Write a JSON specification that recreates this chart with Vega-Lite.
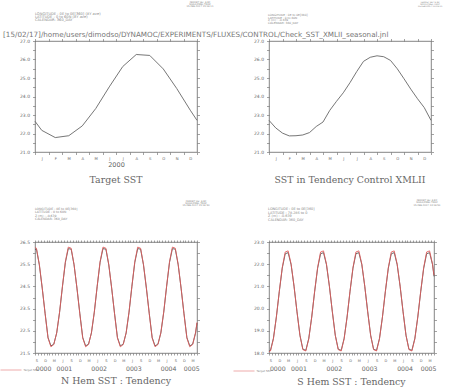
{
"$schema":"https://vega.github.io/schema/vega-lite/v6.json",
"autosize":{"type":"none"},
"padding":{"left":35,"top":41,"right":414,"bottom":348},
"background":"white",
"datasets":{
"tl":[{"t":0,"v":22.66},{"t":0.5,"v":22.17},{"t":1.5,"v":21.78},{"t":2.5,"v":21.88},{"t":3.5,"v":22.41},{"t":4.5,"v":23.35},{"t":5.5,"v":24.52},{"t":6.5,"v":25.62},{"t":7.5,"v":26.27},{"t":8.5,"v":26.22},{"t":9.5,"v":25.49},{"t":10.5,"v":24.43},{"t":11.5,"v":23.26},{"t":12,"v":22.71}],
"tr":[{"t":0,"v":22.71},{"t":0.5,"v":22.3},{"t":1,"v":22.02},{"t":1.5,"v":21.87},{"t":2,"v":21.88},{"t":2.5,"v":21.92},{"t":3,"v":22.05},{"t":3.5,"v":22.38},{"t":4,"v":22.62},{"t":4.5,"v":23.25},{"t":5,"v":23.74},{"t":5.5,"v":24.2},{"t":6,"v":24.75},{"t":6.5,"v":25.35},{"t":7,"v":25.9},{"t":7.5,"v":26.12},{"t":8,"v":26.2},{"t":8.5,"v":26.15},{"t":9,"v":25.95},{"t":9.5,"v":25.5},{"t":10,"v":24.96},{"t":10.5,"v":24.4},{"t":11,"v":23.88},{"t":11.5,"v":23.4},{"t":12,"v":22.71}],
"bl":[{"t":0,"target":26.25,"model":26.17},
{"t":0.5,"target":26.22,"model":26.18},{"t":1.5,"target":25.49,"model":25.47},{"t":2.5,"target":24.43,"model":24.42},{"t":3.5,"target":23.26,"model":23.28},{"t":4.5,"target":22.17,"model":22.2},{"t":5.5,"target":21.78,"model":21.82},{"t":6.5,"target":21.88,"model":21.9},{"t":7.5,"target":22.41,"model":22.4},{"t":8.5,"target":23.35,"model":23.33},{"t":9.5,"target":24.52,"model":24.5},{"t":10.5,"target":25.62,"model":25.58},{"t":11.5,"target":26.27,"model":26.2},
{"t":12.5,"target":26.22,"model":26.18},{"t":13.5,"target":25.49,"model":25.47},{"t":14.5,"target":24.43,"model":24.42},{"t":15.5,"target":23.26,"model":23.28},{"t":16.5,"target":22.17,"model":22.2},{"t":17.5,"target":21.78,"model":21.82},{"t":18.5,"target":21.88,"model":21.9},{"t":19.5,"target":22.41,"model":22.4},{"t":20.5,"target":23.35,"model":23.33},{"t":21.5,"target":24.52,"model":24.5},{"t":22.5,"target":25.62,"model":25.58},{"t":23.5,"target":26.27,"model":26.2},
{"t":24.5,"target":26.22,"model":26.18},{"t":25.5,"target":25.49,"model":25.47},{"t":26.5,"target":24.43,"model":24.42},{"t":27.5,"target":23.26,"model":23.28},{"t":28.5,"target":22.17,"model":22.2},{"t":29.5,"target":21.78,"model":21.82},{"t":30.5,"target":21.88,"model":21.9},{"t":31.5,"target":22.41,"model":22.4},{"t":32.5,"target":23.35,"model":23.33},{"t":33.5,"target":24.52,"model":24.5},{"t":34.5,"target":25.62,"model":25.58},{"t":35.5,"target":26.27,"model":26.2},
{"t":36.5,"target":26.22,"model":26.18},{"t":37.5,"target":25.49,"model":25.47},{"t":38.5,"target":24.43,"model":24.42},{"t":39.5,"target":23.26,"model":23.28},{"t":40.5,"target":22.17,"model":22.2},{"t":41.5,"target":21.78,"model":21.82},{"t":42.5,"target":21.88,"model":21.9},{"t":43.5,"target":22.41,"model":22.4},{"t":44.5,"target":23.35,"model":23.33},{"t":45.5,"target":24.52,"model":24.5},{"t":46.5,"target":25.62,"model":25.58},{"t":47.5,"target":26.27,"model":26.2},
{"t":48.5,"target":26.22,"model":26.18},{"t":49.5,"target":25.49,"model":25.47},{"t":50.5,"target":24.43,"model":24.42},{"t":51.5,"target":23.26,"model":23.28},{"t":52.5,"target":22.17,"model":22.2},{"t":53.5,"target":21.78,"model":21.82},{"t":54.5,"target":21.88,"model":21.9},{"t":55.5,"target":22.41,"model":22.4},
{"t":56,"target":22.88,"model":22.85}],
"br":[{"t":0,"target":18.05,"model":18.08},
{"t":0.5,"target":18.09,"model":18.12},{"t":1.5,"target":18.63,"model":18.66},{"t":2.5,"target":19.62,"model":19.62},{"t":3.5,"target":20.79,"model":20.77},{"t":4.5,"target":21.85,"model":21.82},{"t":5.5,"target":22.55,"model":22.47},{"t":6.5,"target":22.6,"model":22.52},{"t":7.5,"target":22.01,"model":21.98},{"t":8.5,"target":21.02,"model":21.0},{"t":9.5,"target":19.85,"model":19.86},{"t":10.5,"target":18.79,"model":18.8},{"t":11.5,"target":18.15,"model":18.17},
{"t":12.5,"target":18.09,"model":18.12},{"t":13.5,"target":18.63,"model":18.66},{"t":14.5,"target":19.62,"model":19.62},{"t":15.5,"target":20.79,"model":20.77},{"t":16.5,"target":21.85,"model":21.82},{"t":17.5,"target":22.55,"model":22.47},{"t":18.5,"target":22.6,"model":22.52},{"t":19.5,"target":22.01,"model":21.98},{"t":20.5,"target":21.02,"model":21.0},{"t":21.5,"target":19.85,"model":19.86},{"t":22.5,"target":18.79,"model":18.8},{"t":23.5,"target":18.15,"model":18.17},
{"t":24.5,"target":18.09,"model":18.12},{"t":25.5,"target":18.63,"model":18.66},{"t":26.5,"target":19.62,"model":19.62},{"t":27.5,"target":20.79,"model":20.77},{"t":28.5,"target":21.85,"model":21.82},{"t":29.5,"target":22.55,"model":22.47},{"t":30.5,"target":22.6,"model":22.52},{"t":31.5,"target":22.01,"model":21.98},{"t":32.5,"target":21.02,"model":21.0},{"t":33.5,"target":19.85,"model":19.86},{"t":34.5,"target":18.79,"model":18.8},{"t":35.5,"target":18.15,"model":18.17},
{"t":36.5,"target":18.09,"model":18.12},{"t":37.5,"target":18.63,"model":18.66},{"t":38.5,"target":19.62,"model":19.62},{"t":39.5,"target":20.79,"model":20.77},{"t":40.5,"target":21.85,"model":21.82},{"t":41.5,"target":22.55,"model":22.47},{"t":42.5,"target":22.6,"model":22.52},{"t":43.5,"target":22.01,"model":21.98},{"t":44.5,"target":21.02,"model":21.0},{"t":45.5,"target":19.85,"model":19.86},{"t":46.5,"target":18.79,"model":18.8},{"t":47.5,"target":18.15,"model":18.17},
{"t":48.5,"target":18.09,"model":18.12},{"t":49.5,"target":18.63,"model":18.66},{"t":50.5,"target":19.62,"model":19.62},{"t":51.5,"target":20.79,"model":20.77},{"t":52.5,"target":21.85,"model":21.82},{"t":53.5,"target":22.55,"model":22.47},{"t":54.5,"target":22.6,"model":22.52},{"t":55.5,"target":22.01,"model":21.98},
{"t":56,"target":21.5,"model":21.45}]
},
"concat":[
{
 "width":162,"height":111,
 "title":{"text":"Target SST","offset":8},
 "layer":[
  {"data":{"name":"tl"},"mark":{"type":"line","color":"#666","strokeWidth":0.9},
   "encoding":{
    "x":{"field":"t","type":"quantitative","scale":{"domain":[0,12],"nice":false,"zero":false},
     "axis":{"orient":"bottom","values":[0,0.5,1,1.5,2,2.5,3,3.5,4,4.5,5,5.5,6,6.5,7,7.5,8,8.5,9,9.5,10,10.5,11,11.5,12],
      "labelExpr":"datum.value % 1 == 0.5 ? substring('JFMAMJJASOND', floor(datum.value), floor(datum.value) + 1) : ''",
      "tickOpacity":{"condition":{"test":"datum.value % 1 == 0","value":1},"value":0},
      "labelFontSize":3.8,"labelPadding":1.5,"title":"2000","titleFontSize":6.5,"titlePadding":2}},
    "y":{"field":"v","type":"quantitative","scale":{"domain":[21,27],"nice":false,"zero":false},
     "axis":{"orient":"left","values":[21,21.5,22,22.5,23,23.5,24,24.5,25,25.5,26,26.5,27],
      "labelExpr":"datum.value % 1 == 0 ? format(datum.value, '.1f') : ''","title":null,"labelPadding":3}}
   }},
  {"data":{"values":[{}]},"mark":{"type":"text","align":"left","baseline":"top","font":"DejaVu Sans","fontSize":3.6,"lineHeight":3.4,"color":"#888"},
   "encoding":{
    "x":{"datum":0,"type":"quantitative","scale":{"domain":[0,12],"nice":false,"zero":false},"axis":{"orient":"top","values":[0,1,2,3,4,5,6,7,8,9,10,11,12],"labels":false,"title":null}},
    "y":{"datum":28.59,"type":"quantitative","scale":{"domain":[21,27],"nice":false,"zero":false},"axis":{"orient":"right","values":[21,21.5,22,22.5,23,23.5,24,24.5,25,25.5,26,26.5,27],"labels":false,"title":null}},
    "text":{"value":["LONGITUDE : 0E to 0E[360] (XY ave)","LATITUDE : 0 to 60N (XY ave)","CALENDAR: 360_DAY"]}}},
  {"data":{"values":[{}]},"mark":{"type":"text","align":"center","baseline":"top","font":"DejaVu Sans","fontSize":2.4,"lineHeight":1.9,"color":"#888"},
   "encoding":{
    "x":{"datum":12.22,"type":"quantitative","scale":{"domain":[0,12],"nice":false,"zero":false},"axis":null},
    "y":{"datum":29.16,"type":"quantitative","scale":{"domain":[21,27],"nice":false,"zero":false},"axis":null},
    "text":{"value":["FERRET Ver. 6.82","NOAA/PMEL TMAP","15-FEB-2017 15:16:11"]}}},
  {"data":{"values":[{}]},"mark":{"type":"text","align":"left","baseline":"alphabetic","font":"DejaVu Sans","fontSize":7.2,"color":"#777"},
   "encoding":{
    "x":{"datum":-2.37,"type":"quantitative","scale":{"domain":[0,12],"nice":false,"zero":false},"axis":null},
    "y":{"datum":27.19,"type":"quantitative","scale":{"domain":[21,27],"nice":false,"zero":false},"axis":null},
    "text":{"value":"[15/02/17]/home/users/dimodso/DYNAMOC/EXPERIMENTS/FLUXES/CONTROL/Check_SST_XMLII_seasonal.jnl"}}}
 ],
 "resolve":{"axis":{"x":"independent","y":"independent"}}
},
{
 "width":162,"height":111,
 "title":{"text":"SST in Tendency Control XMLII","offset":16},
 "layer":[
  {"data":{"name":"tr"},"mark":{"type":"line","color":"#666","strokeWidth":0.9},
   "encoding":{
    "x":{"field":"t","type":"quantitative","scale":{"domain":[0,12],"nice":false,"zero":false},
     "axis":{"orient":"bottom","values":[0,0.5,1,1.5,2,2.5,3,3.5,4,4.5,5,5.5,6,6.5,7,7.5,8,8.5,9,9.5,10,10.5,11,11.5,12],
      "labelExpr":"datum.value % 1 == 0.5 ? substring('JFMAMJJASOND', floor(datum.value), floor(datum.value) + 1) : ''",
      "tickOpacity":{"condition":{"test":"datum.value % 1 == 0","value":1},"value":0},
      "labelFontSize":3.8,"labelPadding":1.5,"title":null}},
    "y":{"field":"v","type":"quantitative","scale":{"domain":[21,27],"nice":false,"zero":false},
     "axis":{"orient":"left","values":[21,21.5,22,22.5,23,23.5,24,24.5,25,25.5,26,26.5,27],
      "labelExpr":"datum.value % 1 == 0 ? format(datum.value, '.1f') : ''","title":null,"labelPadding":3}}
   }},
  {"data":{"values":[{}]},"mark":{"type":"text","align":"left","baseline":"top","font":"DejaVu Sans","fontSize":2.9,"lineHeight":2.8,"color":"#888"},
   "encoding":{
    "x":{"datum":-0.07,"type":"quantitative","scale":{"domain":[0,12],"nice":false,"zero":false},"axis":{"orient":"top","values":[0,1,2,3,4,5,6,7,8,9,10,11,12],"labels":false,"title":null}},
    "y":{"datum":28.47,"type":"quantitative","scale":{"domain":[21,27],"nice":false,"zero":false},"axis":{"orient":"right","values":[21,21.5,22,22.5,23,23.5,24,24.5,25,25.5,26,26.5,27],"labels":false,"title":null}},
    "text":{"value":["LONGITUDE : 0E to 0E[360]","LATITUDE : 0 to 60N","Z (m) : -0.639","CALENDAR: 360_DAY"]}}},
  {"data":{"values":[{}]},"mark":{"type":"text","align":"center","baseline":"top","font":"DejaVu Sans","fontSize":2.2,"lineHeight":1.8,"color":"#888"},
   "encoding":{
    "x":{"datum":11.93,"type":"quantitative","scale":{"domain":[0,12],"nice":false,"zero":false},"axis":null},
    "y":{"datum":29.16,"type":"quantitative","scale":{"domain":[21,27],"nice":false,"zero":false},"axis":null},
    "text":{"value":["FERRET Ver. 6.82","NOAA/PMEL TMAP","15-FEB-2017 13:16:11"]}}}
 ],
 "resolve":{"axis":{"x":"independent","y":"independent"}}
},
{
 "width":162,"height":111,
 "title":{"text":"N Hem SST : Tendency","offset":5},
 "layer":[
  {"data":{"name":"bl"},"mark":{"type":"line","color":"#444","strokeWidth":0.8},
   "encoding":{
    "x":{"field":"t","type":"quantitative","scale":{"domain":[0,56],"nice":false,"zero":false},
     "axis":{"orient":"bottom","values":[0,1,2,3,4,5,6,7,8,9,10,11,12,13,14,15,16,17,18,19,20,21,22,23,24,25,26,27,28,29,30,31,32,33,34,35,36,37,38,39,40,41,42,43,44,45,46,47,48,49,50,51,52,53,54,55,56,0.5,3.5,6.5,9.5,12.5,15.5,18.5,21.5,24.5,27.5,30.5,33.5,36.5,39.5,42.5,45.5,48.5,51.5,54.5],
      "labelExpr":"datum.value % 1 == 0.5 ? substring('JFMAMJJASOND', (floor(datum.value) + 8) % 12, (floor(datum.value) + 8) % 12 + 1) : ''",
      "tickOpacity":{"condition":{"test":"datum.value % 1 == 0","value":1},"value":0},
      "tickSize":2,"labelFontSize":3.6,"labelPadding":3,"title":null}},
    "y":{"field":"model","type":"quantitative","scale":{"domain":[21.5,26.5],"nice":false,"zero":false},
     "axis":{"orient":"left","values":[21.5,22,22.5,23,23.5,24,24.5,25,25.5,26,26.5],
      "labelExpr":"datum.value % 1 == 0.5 ? format(datum.value, '.1f') : ''","title":null,"labelPadding":3}}
   }},
  {"data":{"name":"bl"},"mark":{"type":"line","strokeWidth":1,"opacity":0.85},
   "encoding":{
    "x":{"field":"t","type":"quantitative","scale":{"domain":[0,56],"nice":false,"zero":false},
     "axis":{"orient":"bottom","values":[2.8,10,22,34,46,54],"labelExpr":"'000' + floor((datum.value + 8) / 12)","ticks":false,"tickSize":0,"labelPadding":12.5,"labelFontSize":6.2,"title":null}},
    "y":{"field":"target","type":"quantitative","scale":{"domain":[21.5,26.5],"nice":false,"zero":false},"axis":null},
    "color":{"datum":"Target SST","type":"nominal","scale":{"range":["#e05a5a"]},
     "legend":{"orient":"none","legendX":-35,"legendY":117,"title":null,"symbolType":"stroke","symbolSize":441,"symbolStrokeWidth":1,"symbolOpacity":0.5,"labelFontSize":2.8,"labelColor":"#888","labelOffset":1.5,"padding":0,"labelFont":"DejaVu Sans"}}
   }},
  {"data":{"values":[{}]},"mark":{"type":"text","align":"left","baseline":"top","font":"DejaVu Sans","fontSize":3.1,"lineHeight":3.5,"color":"#888"},
   "encoding":{
    "x":{"datum":0,"type":"quantitative","scale":{"domain":[0,56],"nice":false,"zero":false},"axis":{"orient":"top","values":[0,1,2,3,4,5,6,7,8,9,10,11,12,13,14,15,16,17,18,19,20,21,22,23,24,25,26,27,28,29,30,31,32,33,34,35,36,37,38,39,40,41,42,43,44,45,46,47,48,49,50,51,52,53,54,55,56],"labels":false,"tickSize":2,"title":null}},
    "y":{"datum":28.05,"type":"quantitative","scale":{"domain":[21.5,26.5],"nice":false,"zero":false},"axis":{"orient":"right","values":[21.5,22,22.5,23,23.5,24,24.5,25,25.5,26,26.5],"labels":false,"title":null}},
    "text":{"value":["LONGITUDE : 0E to 0E[360]","LATITUDE : 0 to 60N","Z (m) : -0.639","CALENDAR: 360_DAY"]}}},
  {"data":{"values":[{}]},"mark":{"type":"text","align":"center","baseline":"top","font":"DejaVu Sans","fontSize":2.4,"lineHeight":2.3,"color":"#888"},
   "encoding":{
    "x":{"datum":55.65,"type":"quantitative","scale":{"domain":[0,56],"nice":false,"zero":false},"axis":null},
    "y":{"datum":28.41,"type":"quantitative","scale":{"domain":[21.5,26.5],"nice":false,"zero":false},"axis":null},
    "text":{"value":["FERRET Ver. 6.82","NOAA/PMEL TMAP","15-FEB-2017 15:16:50"]}}}
 ],
 "resolve":{"axis":{"x":"independent","y":"independent"}}
},
{
 "width":165,"height":111,
 "title":{"text":"S Hem SST : Tendency","offset":5},
 "layer":[
  {"data":{"name":"br"},"mark":{"type":"line","color":"#444","strokeWidth":0.8},
   "encoding":{
    "x":{"field":"t","type":"quantitative","scale":{"domain":[0,56],"nice":false,"zero":false},
     "axis":{"orient":"bottom","values":[0,1,2,3,4,5,6,7,8,9,10,11,12,13,14,15,16,17,18,19,20,21,22,23,24,25,26,27,28,29,30,31,32,33,34,35,36,37,38,39,40,41,42,43,44,45,46,47,48,49,50,51,52,53,54,55,56,0.5,3.5,6.5,9.5,12.5,15.5,18.5,21.5,24.5,27.5,30.5,33.5,36.5,39.5,42.5,45.5,48.5,51.5,54.5],
      "labelExpr":"datum.value % 1 == 0.5 ? substring('JFMAMJJASOND', (floor(datum.value) + 8) % 12, (floor(datum.value) + 8) % 12 + 1) : ''",
      "tickOpacity":{"condition":{"test":"datum.value % 1 == 0","value":1},"value":0},
      "tickSize":2,"labelFontSize":3.6,"labelPadding":3,"title":null}},
    "y":{"field":"model","type":"quantitative","scale":{"domain":[18,23],"nice":false,"zero":false},
     "axis":{"orient":"left","values":[18,18.5,19,19.5,20,20.5,21,21.5,22,22.5,23],
      "labelExpr":"datum.value % 1 == 0 ? format(datum.value, '.1f') : ''","title":null,"labelPadding":3}}
   }},
  {"data":{"name":"br"},"mark":{"type":"line","strokeWidth":1,"opacity":0.85},
   "encoding":{
    "x":{"field":"t","type":"quantitative","scale":{"domain":[0,56],"nice":false,"zero":false},
     "axis":{"orient":"bottom","values":[2.8,10,22,34,46,54],"labelExpr":"'000' + floor((datum.value + 8) / 12)","ticks":false,"tickSize":0,"labelPadding":12.5,"labelFontSize":6.2,"title":null}},
    "y":{"field":"target","type":"quantitative","scale":{"domain":[18,23],"nice":false,"zero":false},"axis":null},
    "color":{"datum":"Target SST","type":"nominal","scale":{"range":["#e05a5a"]},
     "legend":{"orient":"none","legendX":-36,"legendY":118,"title":null,"symbolType":"stroke","symbolSize":441,"symbolStrokeWidth":1,"symbolOpacity":0.5,"labelFontSize":2.8,"labelColor":"#888","labelOffset":1.5,"padding":0,"labelFont":"DejaVu Sans"}}
   }},
  {"data":{"values":[{}]},"mark":{"type":"text","align":"left","baseline":"top","font":"DejaVu Sans","fontSize":3.4,"lineHeight":3.6,"color":"#888"},
   "encoding":{
    "x":{"datum":-0.3,"type":"quantitative","scale":{"domain":[0,56],"nice":false,"zero":false},"axis":{"orient":"top","values":[0,1,2,3,4,5,6,7,8,9,10,11,12,13,14,15,16,17,18,19,20,21,22,23,24,25,26,27,28,29,30,31,32,33,34,35,36,37,38,39,40,41,42,43,44,45,46,47,48,49,50,51,52,53,54,55,56],"labels":false,"tickSize":2,"title":null}},
    "y":{"datum":24.57,"type":"quantitative","scale":{"domain":[18,23],"nice":false,"zero":false},"axis":{"orient":"right","values":[18,18.5,19,19.5,20,20.5,21,21.5,22,22.5,23],"labels":false,"title":null}},
    "text":{"value":["LONGITUDE : 0E to 0E[360]","LATITUDE : 78.28S to 0","Z (m) : -0.639","CALENDAR: 360_DAY"]}}},
  {"data":{"values":[{}]},"mark":{"type":"text","align":"center","baseline":"top","font":"DejaVu Sans","fontSize":2.4,"lineHeight":2.3,"color":"#888"},
   "encoding":{
    "x":{"datum":53.6,"type":"quantitative","scale":{"domain":[0,56],"nice":false,"zero":false},"axis":null},
    "y":{"datum":24.93,"type":"quantitative","scale":{"domain":[18,23],"nice":false,"zero":false},"axis":null},
    "text":{"value":["FERRET Ver. 6.82","NOAA/PMEL TMAP","15-FEB-2017 13:16:50"]}}}
 ],
 "resolve":{"axis":{"x":"independent","y":"independent"}}
}
],
"columns":2,
"spacing":{"row":90,"column":72},
"bounds":"flush",
"resolve":{"scale":{"color":"independent"},"legend":{"color":"independent"}},
"config":{
 "view":{"stroke":"#666","strokeWidth":0.8},
 "axis":{"domain":false,"grid":false,"tickColor":"#666","tickWidth":0.6,"tickSize":2.5,"labelFont":"DejaVu Sans","labelColor":"#666","labelFontSize":4.5,"labelOverlap":false,"labelFlush":false,"labelBound":false,"titleFont":"DejaVu Sans","titleFontWeight":"normal","titleColor":"#666","labelPadding":1.5},
 "title":{"font":"DejaVu Serif","fontSize":9.4,"fontWeight":"normal","color":"#666","orient":"bottom","anchor":"middle","frame":"group"},
 "text":{"font":"DejaVu Sans"}
}
}
